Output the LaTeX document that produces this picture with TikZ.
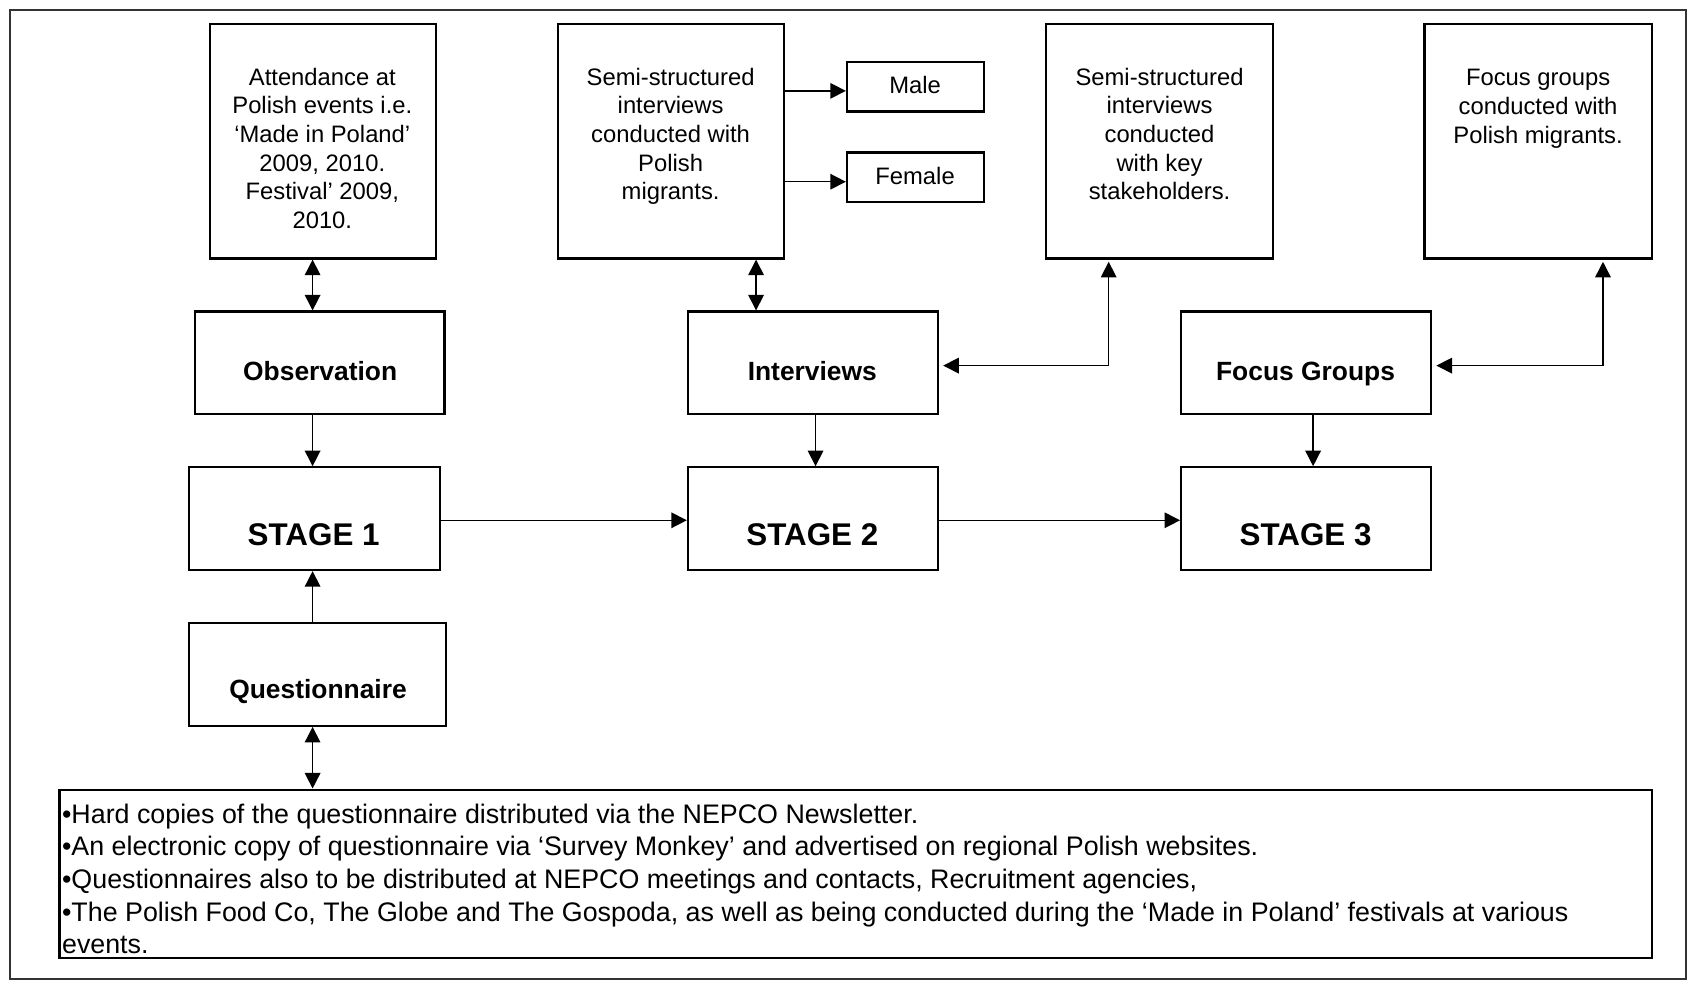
\documentclass[tikz,border=0pt]{standalone}
\usepackage{fontspec}
\setmainfont{Liberation Sans}
\usetikzlibrary{arrows.meta,calc}
\begin{document}
\begin{tikzpicture}[x=0.5pt,y=-0.5pt,
  >={Triangle[length=7.2pt,width=7.2pt]},
  box/.style={draw, line width=1pt, inner sep=0pt},
  conn/.style={line width=0.7pt},
  frame/.style={draw=black!80, line width=0.8pt},
  smalltxt/.style={align=center, inner sep=0pt, font=\fontsize{11}{13.25}\selectfont},
  boldtxt/.style={inner sep=0pt, text height=0.73em, text depth=0pt, font=\fontsize{12.2}{14}\selectfont\bfseries},
  stagetxt/.style={inner sep=0pt, text height=0.73em, text depth=0pt, font=\fontsize{14.5}{17}\selectfont\bfseries},
  bottxt/.style={align=left, inner sep=0pt, anchor=west, font=\fontsize{12.4}{15.1}\selectfont}]
\useasboundingbox (0,0) rectangle (1568,912);
\draw[frame] (9,9) rectangle (1559,905);

% top boxes
\node[box, minimum width=104.5pt, minimum height=108.5pt] (att) at (298.5,130.5) {};
\node[smalltxt] (atttxt) at (298,137) {Attendance at\\Polish events i.e.\\‘Made in Poland’\\2009, 2010.\\Festival’ 2009,\\2010.};
\node[box, minimum width=104.5pt, minimum height=108.5pt] (semi1) at (620.5,130.5) {};
\node[smalltxt] (semi1txt) at (620,126) {Semi-structured\\interviews\\conducted with\\Polish\\migrants.};
\node[box, minimum width=63.5pt, minimum height=23pt] (male) at (846.5,80) {};
\node[smalltxt] (maletxt) at (846,79) {Male};
\node[box, minimum width=63.5pt, minimum height=23pt] (female) at (846.5,164) {};
\node[smalltxt] (femaletxt) at (846,163) {Female};
\node[box, minimum width=105pt, minimum height=108.5pt] (semi2) at (1072,130.5) {};
\node[smalltxt] (semi2txt) at (1072,124) {Semi-structured\\interviews\\conducted\\with key\\stakeholders.};
\node[box, minimum width=105pt, minimum height=108.5pt] (fg) at (1422,130.5) {};
\node[smalltxt] (fgtxt) at (1422,100.5) {Focus groups\\conducted with\\Polish migrants.};

% method boxes
\node[box, minimum width=115.5pt, minimum height=47.5pt] (obs) at (295.5,335.5) {};
\node[boldtxt] (obstxt) at (296,344.5) {Observation};
\node[box, minimum width=115.5pt, minimum height=47.5pt] (intv) at (751.5,335.5) {};
\node[boldtxt] (intvtxt) at (751,344.5) {Interviews};
\node[box, minimum width=115.5pt, minimum height=47.5pt] (fgp) at (1207.5,335.5) {};
\node[boldtxt] (fgptxt) at (1207,344.5) {Focus Groups};

% stages
\node[box, minimum width=116pt, minimum height=47.5pt] (st1) at (291,479.5) {};
\node[stagetxt] (st1txt) at (290,497) {STAGE 1};
\node[box, minimum width=115.5pt, minimum height=47.5pt] (st2) at (751.5,479.5) {};
\node[stagetxt] (st2txt) at (751,497) {STAGE 2};
\node[box, minimum width=115.5pt, minimum height=47.5pt] (st3) at (1207.5,479.5) {};
\node[stagetxt] (st3txt) at (1207,497) {STAGE 3};

% questionnaire
\node[box, minimum width=118.5pt, minimum height=47.5pt] (quest) at (293.5,623.5) {};
\node[boldtxt] (questtxt) at (294,638.5) {Questionnaire};

% bottom box
\node[box, minimum width=736pt, minimum height=78pt] (bot) at (791,808) {};
\node[bottxt] (bottxt) at (57,812.5) {•Hard copies of the questionnaire distributed via the NEPCO Newsletter.\\
•An electronic copy of questionnaire via ‘Survey Monkey’ and advertised on regional Polish websites.\\
•Questionnaires also to be distributed at NEPCO meetings and contacts, Recruitment agencies,\\
•The Polish Food Co, The Globe and The Gospoda, as well as being conducted during the ‘Made in Poland’ festivals at various\\
events.};

% connector columns / rows
\coordinate (c1) at (289,0);
\coordinate (c2) at (699,0);
\coordinate (c3) at (754,0);
\coordinate (c4) at (1214,0);
\coordinate (c5) at (1025,0);
\coordinate (c6) at (1482,0);
\coordinate (r1) at (0,338);
\coordinate (r2) at (0,84);
\coordinate (r3) at (0,168);
\coordinate (r4) at (0,481);

\draw[conn,<->] (att.south -| c1) -- (obs.north -| c1);
\draw[conn,->] (obs.south -| c1) -- (st1.north -| c1);
\draw[conn,->] (quest.north -| c1) -- (st1.south -| c1);
\draw[conn,<->] (quest.south -| c1) -- (bot.north -| c1);

\draw[conn,->] (st1.east |- r4) -- (st2.west |- r4);
\draw[conn,->] (st2.east |- r4) -- (st3.west |- r4);

\draw[conn,<->] (semi1.south -| c2) -- (intv.north -| c2);
\draw[conn,->] (intv.south -| c3) -- (st2.north -| c3);
\draw[conn,->] (fgp.south -| c4) -- (st3.north -| c4);

\draw[conn,->] (semi1.east |- r2) -- (male.west |- r2);
\draw[conn,->] (semi1.east |- r3) -- (female.west |- r3);

\draw[conn,<->,shorten <=1pt,shorten >=2pt] (semi2.south -| c5) -- (c5 |- r1) -- (intv.east |- r1);
\draw[conn,<->,shorten <=1pt,shorten >=2pt] (fg.south -| c6) -- (c6 |- r1) -- (fgp.east |- r1);
\end{tikzpicture}
\end{document}
